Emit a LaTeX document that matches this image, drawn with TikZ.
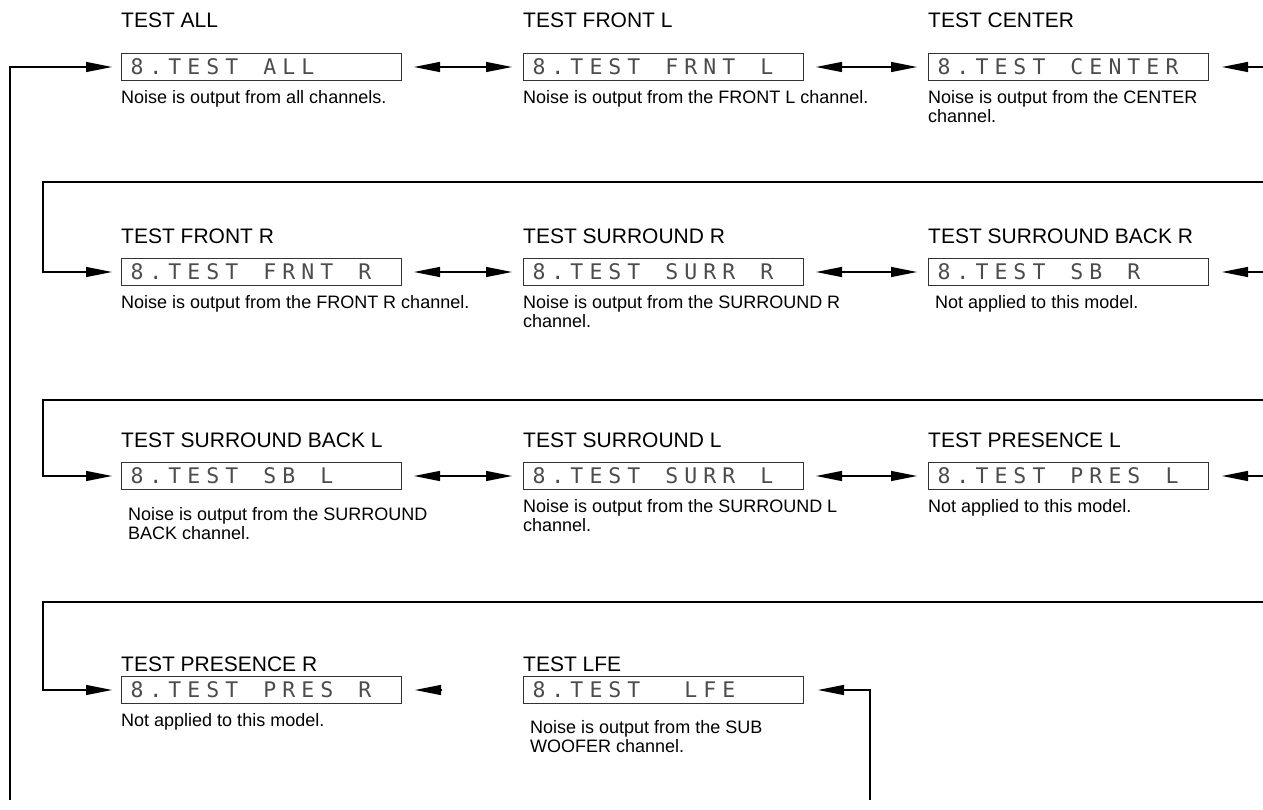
\documentclass[tikz,border=0pt]{standalone}
\usepackage{fontspec}
\setmainfont{Liberation Sans}
\newfontfamily\lcdfamily{DejaVu Sans Mono}
\usetikzlibrary{arrows.meta,positioning}

% one character cell of the display
\newcommand{\lcd}[1]{\foreach \ch in {#1}{\makebox[19pt][l]{\ch}}}

\begin{document}
\begin{tikzpicture}[x=1pt, y=-1pt,
  lcdbox/.style={draw=black!80, line width=1pt, minimum height=27pt,
    text width=262pt, inner xsep=9pt, inner ysep=0pt, align=left, anchor=west,
    text=black!70, font=\lcdfamily\fontsize{21.5}{22}\selectfont},
  title/.style={anchor=base west, inner sep=0pt, font=\fontsize{21}{24}\selectfont},
  desc/.style={anchor=north west, inner sep=0pt, align=left, font=\fontsize{18}{19}\selectfont},
  flow/.style={line width=1.2pt, -{Triangle[length=26pt,width=10pt]}},
  link/.style={line width=1.2pt, {Triangle[length=26pt,width=10pt]}-{Triangle[length=26pt,width=10pt]}}]

  \useasboundingbox (0,0) rectangle (1263,809);

  % Displays
  \node[lcdbox] (all)    at (121,67)  {\lcd{8,.,T,E,S,T,,A,L,L}};
  \node[lcdbox] (frontl) at (523,67)  {\lcd{8,.,T,E,S,T,,F,R,N,T,,L}};
  \node[lcdbox] (center) at (928,67)  {\lcd{8,.,T,E,S,T,,C,E,N,T,E,R}};
  \node[lcdbox] (frontr) at (121,272) {\lcd{8,.,T,E,S,T,,F,R,N,T,,R}};
  \node[lcdbox] (surrr)  at (523,272) {\lcd{8,.,T,E,S,T,,S,U,R,R,,R}};
  \node[lcdbox] (sbr)    at (928,272) {\lcd{8,.,T,E,S,T,,S,B,,R}};
  \node[lcdbox] (sbl)    at (121,476) {\lcd{8,.,T,E,S,T,,S,B,,L}};
  \node[lcdbox] (surrl)  at (523,476) {\lcd{8,.,T,E,S,T,,S,U,R,R,,L}};
  \node[lcdbox] (presl)  at (928,476) {\lcd{8,.,T,E,S,T,,P,R,E,S,,L}};
  \node[lcdbox] (presr)  at (121,690) {\lcd{8,.,T,E,S,T,,P,R,E,S,,R}};
  \node[lcdbox] (lfe)    at (523,690) {\lcd{8,.,T,E,S,T,,,L,F,E}};

  % Titles
  \node[title] (tall)    at (121,27)  {TEST ALL};
  \node[title] (tfrontl) at (523,27)  {TEST FRONT L};
  \node[title] (tcenter) at (928,27)  {TEST CENTER};
  \node[title] (tfrontr) at (121,243) {TEST FRONT R};
  \node[title] (tsurrr)  at (523,243) {TEST SURROUND R};
  \node[title] (tsbr)    at (928,243) {TEST SURROUND BACK R};
  \node[title] (tsbl)    at (121,447) {TEST SURROUND BACK L};
  \node[title] (tsurrl)  at (523,447) {TEST SURROUND L};
  \node[title] (tpresl)  at (928,447) {TEST PRESENCE L};
  \node[title] (tpresr)  at (121,671) {TEST PRESENCE R};
  \node[title] (tlfe)    at (523,671) {TEST LFE};

  % Descriptions
  \node[desc] (dall)    at ([yshift=-9pt]all.south west)    {Noise is output from all channels.};
  \node[desc] (dfrontl) at ([yshift=-9pt]frontl.south west) {Noise is output from the FRONT L channel.};
  \node[desc] (dcenter) at ([yshift=-9pt]center.south west) {Noise is output from the CENTER\\channel.};
  \node[desc] (dfrontr) at ([yshift=-9pt]frontr.south west) {Noise is output from the FRONT R channel.};
  \node[desc] (dsurrr)  at ([yshift=-9pt]surrr.south west)  {Noise is output from the SURROUND R\\channel.};
  \node[desc] (dsbr)    at ([xshift=7pt,yshift=-9pt]sbr.south west) {Not applied to this model.};
  \node[desc] (dsbl)    at ([xshift=7pt,yshift=-17pt]sbl.south west) {Noise is output from the SURROUND\\BACK channel.};
  \node[desc] (dsurrl)  at ([yshift=-9pt]surrl.south west)  {Noise is output from the SURROUND L\\channel.};
  \node[desc] (dpresl)  at ([yshift=-9pt]presl.south west)  {Not applied to this model.};
  \node[desc] (dpresr)  at ([yshift=-9pt]presr.south west)  {Not applied to this model.};
  \node[desc] (dlfe)    at ([xshift=7pt,yshift=-16pt]lfe.south west) {Noise is output from the SUB\\WOOFER channel.};

  % Links between neighbours
  \foreach \a/\b in {all/frontl, frontl/center, frontr/surrr, surrr/sbr, sbl/surrl, surrl/presl}
    \draw[link] ([xshift=12pt]\a.east) -- ([xshift=-11pt]\b.west);

  % Incoming from the right edge
  \foreach \n/\y in {center/67, sbr/272, presl/476} {
    \coordinate (in-\n) at (1263,\y);
    \draw[flow] (in-\n) -- ([xshift=13pt]\n.east);
  }

  % Row wrap-arounds
  \foreach \y/\n in {182/frontr, 400/sbl, 602/presr} {
    \coordinate (wr-\n) at (1263,\y);
    \coordinate (wl-\n) at (43,\y);
    \draw[flow] (wr-\n) -- (wl-\n) |- ([xshift=-9pt]\n.west);
  }

  % Loop back to the start and into LFE
  \coordinate (loopbot) at (10,800);
  \coordinate (lfebot) at (870,800);
  \draw[flow] (loopbot) |- ([xshift=-9pt]all.west);
  \draw[flow] (lfebot) |- ([xshift=14pt]lfe.east);
  \draw[flow] ([xshift=40pt]presr.east) -- ([xshift=13pt]presr.east);
\end{tikzpicture}
\end{document}
